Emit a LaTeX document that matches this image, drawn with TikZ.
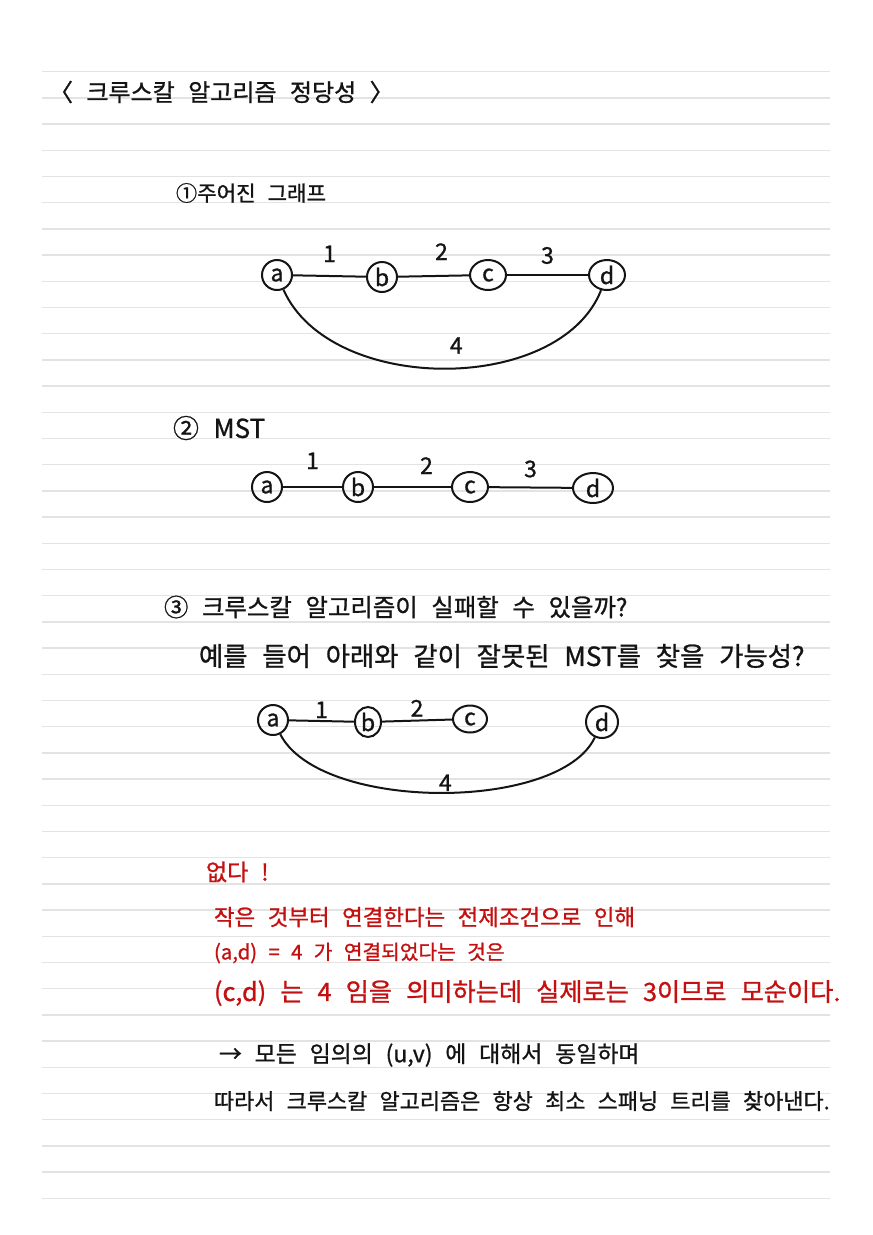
\documentclass[tikz,border=0pt]{standalone}
\usepackage{fontspec}
\setmainfont{Noto Sans CJK KR}[WordSpace=2.5,FakeBold=1]
\usetikzlibrary{shapes.geometric}
\definecolor{ink}{RGB}{20,20,20}
\definecolor{redpen}{RGB}{196,16,16}
\newcommand\pen[1]{\fontsize{#1}{#1}\selectfont}

\begin{document}
\begin{tikzpicture}[x=1pt,y=-1pt,line width=2pt,draw=ink,
  vert/.style={draw=ink,circle,inner sep=0pt,minimum size=30pt,font=\pen{23},text=ink},
  wide vert/.style={vert,ellipse,minimum width=36pt,minimum height=30pt},
  wt/.style={font=\pen{23},text=ink,inner sep=0pt},
  note/.style={anchor=west,inner sep=0pt,text=ink},
  red note/.style={note,text=redpen}]
  % PAPER
  \fill[white] (0,0) rectangle (873,1235);
  \useasboundingbox (0,0) rectangle (873,1235);
  \foreach \k in {0,...,43}
    \draw[black!11,line width=1.5pt] (42,71.7+26.2*\k) -- (830,71.7+26.2*\k);
  % TITLE
  \node[note,font=\pen{24}] (title) at (48,92) {〈 크루스칼 알고리즘 정당성 〉};
  % 1: GIVEN GRAPH
  \node[note,font=\pen{21.2}] (head1) at (175,193) {①주어진 그래프};
  \node[vert] (a1) at (277,275) {a};
  \node[vert] (b1) at (382,277) {b};
  \node[wide vert] (c1) at (488,275) {c};
  \node[wide vert] (d1) at (607,275) {d};
  \path
   (a1) edge node[wt,above=13pt] {1} (b1)
   (b1) edge node[wt,above=15pt,xshift=8pt] {2} (c1)
   (c1) edge node[wt,above=10pt] {3} (d1);
  \draw (a1) .. controls (330,395) and (560,395) .. node[wt,above=14pt,xshift=12pt] {4} (d1);
  % 2: MST
  \node[note,font=\pen{26}] (head2) at (172,428) {② MST};
  \node[vert] (a2) at (267,487) {a};
  \node[vert] (b2) at (358,487) {b};
  \node[wide vert] (c2) at (470,487) {c};
  \node[wide vert,minimum width=40pt] (d2) at (593,488) {d};
  \path
   (a2) edge node[wt,above=17pt] {1} (b2)
   (b2) edge node[wt,above=12pt,xshift=14pt] {2} (c2)
   (c2) edge node[wt,above=9pt] {3} (d2);
  % 3: COUNTER EXAMPLE?
  \node[note,font=\pen{24.4}] (head3) at (163,607) {③ 크루스칼 알고리즘이 실패할 수 있을까?};
  \node[note,font=\pen{26.4}] (ask) at (198,656) {예를 들어 아래와 같이 잘못된 MST를 찾을 가능성?};
  \node[vert] (a3) at (273,720) {a};
  \node[vert,ellipse,minimum width=26pt] (b3) at (368,722) {b};
  \node[wide vert,minimum width=34pt,minimum height=27pt] (c3) at (470,719) {c};
  \node[vert,minimum size=32pt] (d3) at (602,722) {d};
  \path
   (a3) edge node[wt,above=2pt] {1} (b3)
   (b3) edge node[wt,above=3pt] {2} (c3);
  \draw (a3) .. controls (320,812) and (560,812) .. node[wt,above=1pt,xshift=6pt] {4} (d3);
  % ANSWER
  \node[red note,font=\pen{23}] (no) at (205,872) {없다 !};
  \node[red note,font=\pen{22.4}] (why1) at (213,917) {작은 것부터 연결한다는 전제조건으로 인해};
  \node[red note,font=\pen{20.3}] (why2) at (213,953) {(a,d) = 4 가 연결되었다는 것은};
  \node[red note,font=\pen{25.2}] (why3) at (213,993) {(c,d) 는 4 임을 의미하는데 실제로는 3이므로 모순이다.};
  \node[note,font=\pen{22.9}] (then1) at (218,1055) {→ 모든 임의의 (u,v) 에 대해서 동일하며};
  \node[note,font=\pen{21.9}] (then2) at (213,1101) {따라서 크루스칼 알고리즘은 항상 최소 스패닝 트리를 찾아낸다.};
\end{tikzpicture}
\end{document}
